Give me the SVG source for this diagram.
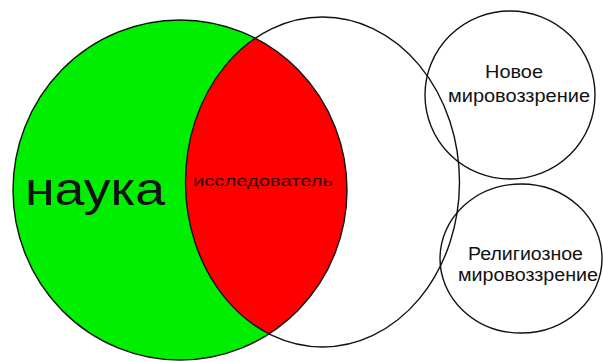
<svg xmlns="http://www.w3.org/2000/svg" width="603" height="362" viewBox="0 0 603 362">
<style>
.ln{fill:none;stroke:#111;stroke-width:1.4}
.t{font-family:"Liberation Sans",Arial,sans-serif;fill:#111}
</style>
<defs>
<clipPath id="cw"><ellipse cx="322.5" cy="182" rx="137" ry="165"/></clipPath>
</defs>
<rect width="603" height="362" fill="#fff"/>
<g id="nauka">
<ellipse cx="180" cy="190" rx="167" ry="170" fill="#00ee00"/>
</g>
<g id="issledovatel">
<ellipse cx="180" cy="190" rx="167" ry="170" fill="#ff0000" clip-path="url(#cw)"/>
</g>
<g id="white">
<ellipse class="ln" cx="322.5" cy="182" rx="137" ry="165"/>
</g>
<g id="nauka-outline">
<ellipse class="ln" cx="180" cy="190" rx="167" ry="170"/>
<text class="t" x="25" y="205" font-size="46" textLength="140" lengthAdjust="spacingAndGlyphs">наука</text>
</g>
<g id="issledovatel-label">
<text class="t" x="193" y="186" font-size="15" textLength="140" lengthAdjust="spacingAndGlyphs" style="fill:#3a0000">исследователь</text>
</g>
<g id="novoe">
<ellipse class="ln" cx="510" cy="95" rx="85" ry="84"/>
<text class="t" x="485" y="78" font-size="18" textLength="58" lengthAdjust="spacingAndGlyphs">Новое</text>
<text class="t" x="448" y="102" font-size="18" textLength="142" lengthAdjust="spacingAndGlyphs">мировоззрение</text>
</g>
<g id="religioznoe">
<ellipse class="ln" cx="521" cy="258.5" rx="81" ry="74.5"/>
<text class="t" x="468" y="260" font-size="18" textLength="115" lengthAdjust="spacingAndGlyphs">Религиозное</text>
<text class="t" x="458" y="281" font-size="18" textLength="140" lengthAdjust="spacingAndGlyphs">мировоззрение</text>
</g>
<g id="connectors"/>
</svg>
